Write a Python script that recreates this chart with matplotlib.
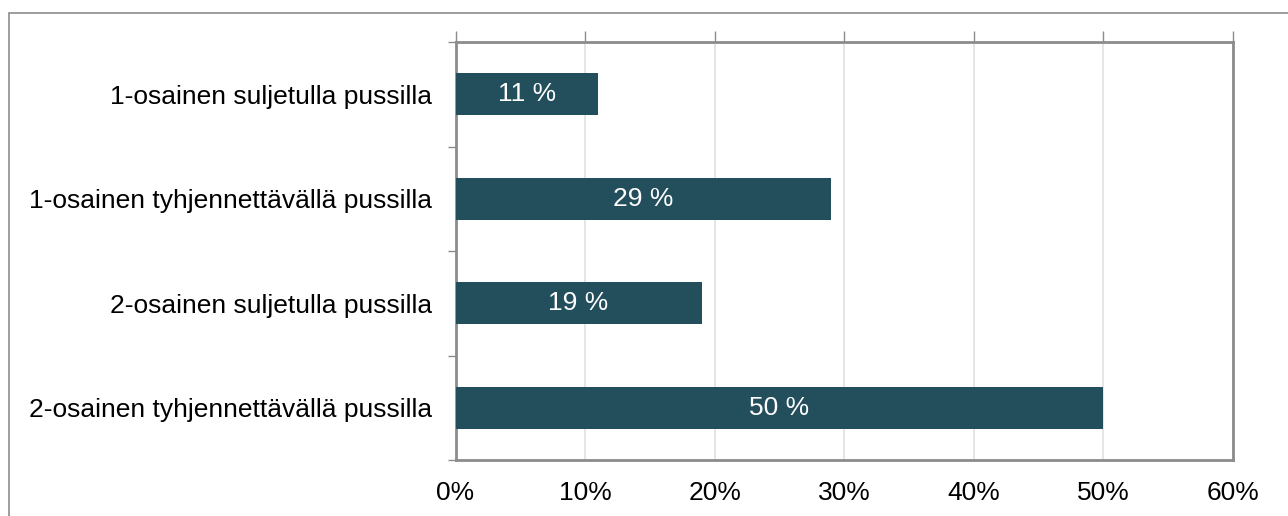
import matplotlib
matplotlib.use("Agg")
import matplotlib.pyplot as plt
from matplotlib.patches import Rectangle

categories = ["1-osainen suljetulla pussilla",
              "1-osainen tyhjennettävällä pussilla",
              "2-osainen suljetulla pussilla",
              "2-osainen tyhjennettävällä pussilla"]
values = [11, 29, 19, 50]
xticks = [0, 10, 20, 30, 40, 50, 60]
xticklabels = ["0%", "10%", "20%", "30%", "40%", "50%", "60%"]

plt.rcParams['font.family'] = ['Liberation Sans', 'DejaVu Sans']

fig = plt.figure(figsize=(12.88, 5.16), dpi=100)
W, H = 1288, 516
ax = fig.add_axes([455.5 / W, 1 - 460 / H, (1233 - 455.5) / W, (460 - 42) / H])

# figure border (left and top visible)
fig.patches.append(Rectangle((9 / W, -0.1), 1.2, 1 - 13 / H + 0.1, transform=fig.transFigure,
                             fill=False, edgecolor="#8c8c8c", linewidth=1.2))

color = "#234E5C"
ypos = list(range(len(categories)))
ax.barh(ypos, values, height=0.4, color=color, zorder=3)
for y, v in zip(ypos, values):
    ax.text(v / 2, y, f"{v} %", ha="center", va="center", color="white", fontsize=19, zorder=4)

ax.set_ylim(len(categories) - 0.5, -0.5)
ax.set_xlim(0, 60)
ax.set_xticks(xticks)
ax.set_xticklabels(xticklabels, fontsize=19)
ax.set_yticks([i - 0.5 for i in range(len(categories) + 1)], minor=False)
ax.set_yticklabels([])
ax.set_yticks(ypos, minor=True)
ax.set_yticklabels(categories, minor=True, fontsize=19)
ax.tick_params(axis="y", which="minor", length=0, pad=17)
ax.tick_params(axis="y", which="major", length=6, width=1, color="#8c8c8c", direction="out")
ax.tick_params(axis="x", which="major", bottom=False, top=True, labelbottom=True, labeltop=False,
               length=8, width=1, color="#8c8c8c", pad=7)
ax.grid(axis="x", color="#e0e0e0", linewidth=1.2, zorder=0)
for s in ax.spines.values():
    s.set_color("#8c8c8c")
    s.set_linewidth(2)

fig.savefig("out.png", dpi=100)
